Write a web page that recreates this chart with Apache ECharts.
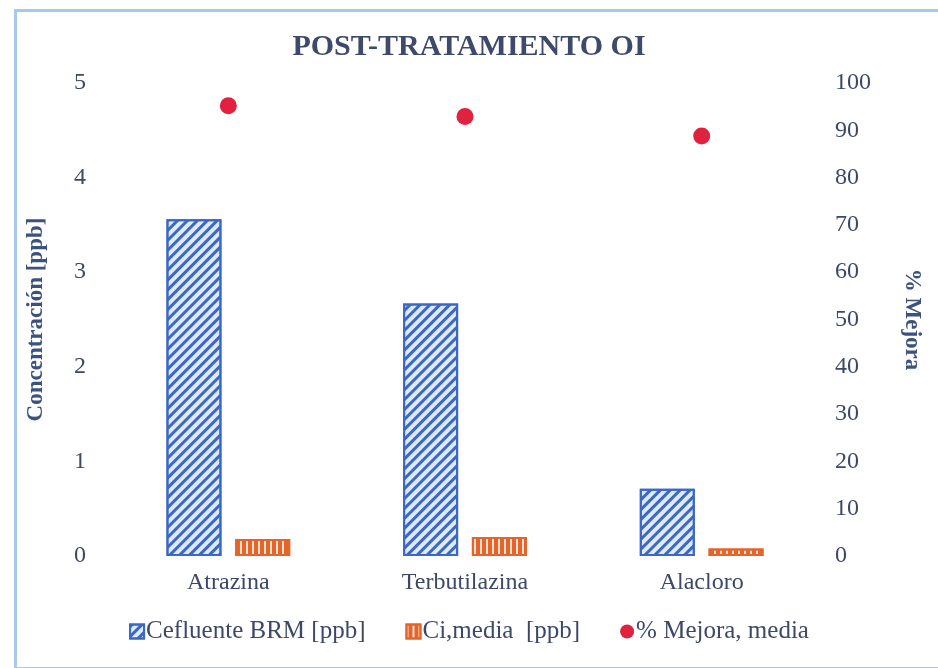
<!DOCTYPE html>
<html>
<head>
<meta charset="utf-8">
<title>POST-TRATAMIENTO OI</title>
<script src="https://cdn.jsdelivr.net/npm/echarts@6/dist/echarts.min.js"></script>
<style>
  html, body { margin: 0; padding: 0; background: #ffffff; }
  #chart { width: 938px; height: 668px; }
</style>
</head>
<body>
<div id="chart"></div>
<script>
// Compuestos analizados
const categories = ['Atrazina', 'Terbutilazina', 'Alacloro'];
// Concentración en el efluente del BRM [ppb]
const cefluente = [3.56, 2.67, 0.71];
// Concentración media tras ósmosis inversa [ppb]
const ciMedia = [0.18, 0.20, 0.08];
// Porcentaje de mejora medio
const mejora = [95.2, 92.9, 88.8];
// Marcas de los ejes
const leftTicks = [0, 1, 2, 3, 4, 5];
const rightTicks = [0, 10, 20, 30, 40, 50, 60, 70, 80, 90, 100];

const serif = '"Liberation Serif", "Times New Roman", serif';
const textColor = '#3d4868';
const titleColor = '#3e4a6c';
const axisNameColor = '#3c527e';

const chart = echarts.init(document.getElementById('chart'), null, { renderer: 'canvas' });

chart.setOption({
  backgroundColor: '#ffffff',
  animation: false,
  graphic: [{
    type: 'rect',
    left: 13, top: 8,
    shape: { width: 940, height: 658 },
    style: { fill: 'none', stroke: '#a9c9ea', lineWidth: 3 },
    silent: true
  }],
  title: {
    text: 'POST-TRATAMIENTO OI',
    left: 'center',
    top: 27,
    textStyle: { fontFamily: serif, fontWeight: 'bold', fontSize: 30, color: titleColor }
  },
  legend: {
    bottom: 19,
    left: 'center',
    itemWidth: 14,
    itemHeight: 14,
    itemGap: 40,
    textStyle: { fontFamily: serif, fontSize: 25, color: textColor, padding: [0, 0, 0, -3] },
    data: [
      { name: 'Cefluente BRM [ppb]', icon: 'rect' },
      { name: 'Ci,media  [ppb]', icon: 'rect' },
      { name: '% Mejora, media', icon: 'circle' }
    ]
  },
  grid: { left: 110, right: 118, top: 83, bottom: 112 },
  xAxis: {
    type: 'category',
    data: categories,
    axisLine: { show: false },
    axisTick: { show: false },
    axisLabel: { fontFamily: serif, fontSize: 24, color: textColor, margin: 15 }
  },
  yAxis: [{
    type: 'value',
    min: leftTicks[0],
    max: leftTicks[leftTicks.length - 1],
    interval: 1,
    name: 'Concentración [ppb]',
    nameLocation: 'middle',
    nameGap: 62,
    nameRotate: 90,
    nameTextStyle: { fontFamily: serif, fontWeight: 'bold', fontSize: 23, color: axisNameColor },
    axisLine: { show: false },
    axisTick: { show: false },
    splitLine: { show: false },
    axisLabel: { fontFamily: serif, fontSize: 24, color: textColor, margin: 24 }
  }, {
    type: 'value',
    min: rightTicks[0],
    max: rightTicks[rightTicks.length - 1],
    interval: 10,
    name: '% Mejora',
    nameLocation: 'middle',
    nameGap: 80,
    nameRotate: -90,
    nameTextStyle: { fontFamily: serif, fontWeight: 'bold', fontSize: 23, color: axisNameColor },
    axisLine: { show: false },
    axisTick: { show: false },
    splitLine: { show: false },
    axisLabel: { fontFamily: serif, fontSize: 24, color: textColor, margin: 15 }
  }],
  series: [{
    name: 'Cefluente BRM [ppb]',
    type: 'bar',
    data: cefluente,
    barWidth: 55,
    barGap: '25%',
    itemStyle: {
      color: '#dfeaf8',
      borderColor: '#3b68c6',
      borderWidth: 2,
      decal: {
        symbol: 'rect',
        symbolSize: 1,
        color: '#3b68c6',
        dashArrayX: [1, 0],
        dashArrayY: [2.5, 4],
        rotation: -Math.PI / 4
      }
    }
  }, {
    name: 'Ci,media  [ppb]',
    type: 'bar',
    data: ciMedia,
    barWidth: 55,
    itemStyle: {
      color: '#fbe3d4',
      borderColor: '#e4642a',
      borderWidth: 2,
      decal: {
        symbol: 'rect',
        symbolSize: 1,
        color: '#e4642a',
        dashArrayX: [1, 0],
        dashArrayY: [4, 1.8],
        rotation: Math.PI / 2
      }
    }
  }, {
    name: '% Mejora, media',
    type: 'scatter',
    yAxisIndex: 1,
    data: mejora,
    symbol: 'circle',
    symbolSize: 17,
    itemStyle: { color: '#e0223f', opacity: 1 }
  }]
});
</script>
</body>
</html>
